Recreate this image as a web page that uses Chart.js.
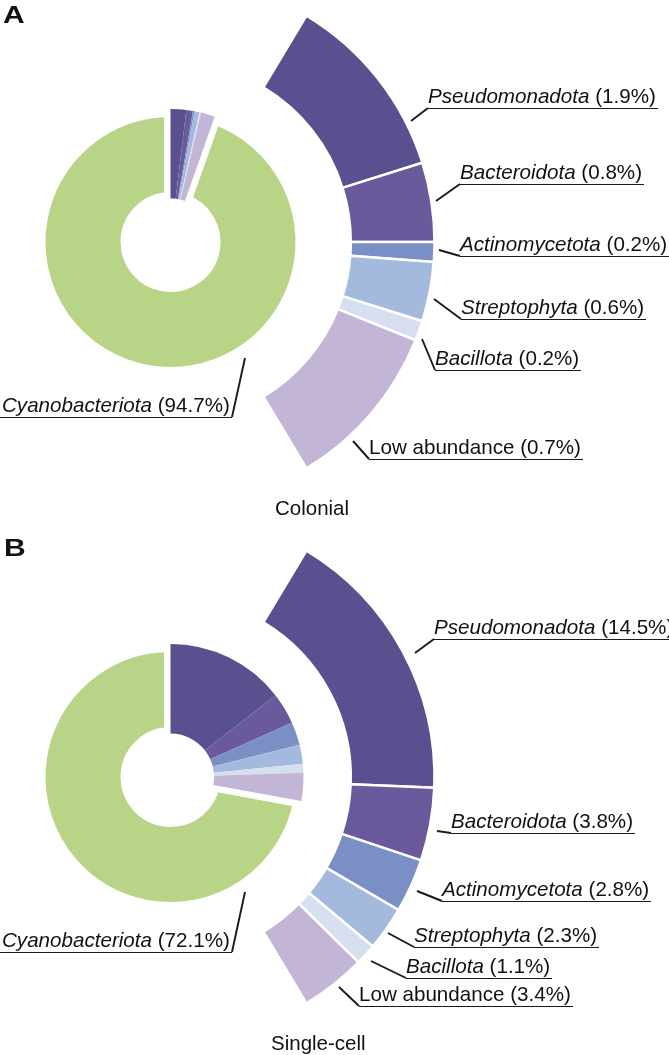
<!DOCTYPE html>
<html>
<head>
<meta charset="utf-8">
<script src="https://cdn.jsdelivr.net/npm/chart.js@4.4.1/dist/chart.umd.min.js"></script>
<style>
  body { margin: 0; background: #fff; width: 669px; height: 1055px; overflow: hidden;
         font-family: "Liberation Sans", Arial, sans-serif; color: #111; }
  .panel { position: absolute; left: 0; width: 669px; height: 530px; }
  .panel canvas { position: absolute; left: 0; top: 0; }
  .lbl { position: absolute; font-size: 20.6px; line-height: 20px; white-space: nowrap;
         padding: 0 2px 2px 0; border-bottom: 1.8px solid #1a1a1a; }
  .title { position: absolute; font-size: 20.5px; line-height: 20px; white-space: nowrap; }
  .letter { position: absolute; font-size: 24px; line-height: 24px; font-weight: bold;
            transform: scaleX(1.25); transform-origin: left top; color: #111; }
</style>
</head>
<body>
<div id="panelA" class="panel" style="top:0"></div>
<div id="panelB" class="panel" style="top:535px"></div>
<div class="letter" style="left:3px;top:3px">A</div>
<div class="letter" style="left:4px;top:536px">B</div>

<script>
const phyla = ["Pseudomonadota", "Bacteroidota", "Actinomycetota", "Streptophyta", "Bacillota", "Low abundance", "Cyanobacteriota"];
const phylumColors = ["#58508f", "#6a5a9c", "#7a8fc3", "#a3b9dd", "#d6dfef", "#c3b5d6", "#b8d487"];

// drawn shares and the printed percentages
const colonialValues = [1.9, 0.8, 0.2, 0.6, 0.2, 1.7, 94.7];
const colonialPercent = ["1.9%", "0.8%", "0.2%", "0.6%", "0.2%", "0.7%", "94.7%"];
const singleCellValues = [14.5, 3.8, 2.8, 2.3, 1.1, 3.4, 72.1];
const singleCellPercent = ["14.5%", "3.8%", "2.8%", "2.3%", "1.1%", "3.4%", "72.1%"];

// label leader lines in panel pixels: [from, to underline]
const colonialLeaders = [
  [[411, 121], [428, 108]],
  [[436, 201], [460, 184]],
  [[439, 250], [460, 256]],
  [[434, 299], [461, 319]],
  [[422, 339], [435, 370]],
  [[353, 441], [369, 459]],
  [[245, 358], [232, 417]],
];
const singleCellLeaders = [
  [[415, 118], [434, 104]],
  [[437, 296], [451, 298]],
  [[417, 356], [442, 366]],
  [[388, 398], [414, 412]],
  [[371, 426], [406, 443]],
  [[339, 452], [359, 471]],
  [[245, 357], [232, 417]],
];

const CYANO = phyla.length - 1;
const CENTER = { x: 170.5, y: 242 };
const CLEAR = "rgba(0,0,0,0)";

const pinCenter = {
  id: "pinCenter",
  beforeDatasetsDraw(chart) {
    chart.getDatasetMeta(0).data.forEach((arc) => {
      arc.x = CENTER.x;
      arc.y = CENTER.y;
    });
  },
};

function addCanvas(panel) {
  const c = document.createElement("canvas");
  c.width = 669;
  c.height = 530;
  panel.appendChild(c);
  return c;
}

function ringOptions(extra) {
  return Object.assign({
    responsive: false,
    animation: false,
    events: [],
    plugins: { legend: { display: false }, tooltip: { enabled: false } },
  }, extra);
}

function drawPanel(panelId, values, percents, leaders, title, titleX) {
  const panel = document.getElementById(panelId);
  const greenColors = phylumColors.map((c, i) => (i === CYANO ? c : CLEAR));
  const groupColors = phylumColors.map((c, i) => (i === CYANO ? CLEAR : c));

  // green ring; its white rim opens the gap beside the small slices
  new Chart(addCanvas(panel), {
    type: "doughnut",
    data: {
      labels: phyla,
      datasets: [{
        data: values,
        backgroundColor: greenColors,
        borderColor: "#fff",
        borderWidth: values.map((v, i) => (i === CYANO ? 13 : 0)),
      }],
    },
    options: ringOptions({ radius: 131.5, cutout: "33.1%" }),
    plugins: [pinCenter],
  });

  // small phyla, drawn a bit thicker than the green ring
  new Chart(addCanvas(panel), {
    type: "doughnut",
    data: {
      labels: phyla,
      datasets: [{ data: values, backgroundColor: groupColors, borderWidth: 0 }],
    },
    options: ringOptions({ radius: 133, cutout: "32.7%" }),
    plugins: [pinCenter],
  });

  const leaderLines = {
    id: "leaderLines",
    afterDatasetsDraw(chart) {
      const ctx = chart.ctx;
      ctx.save();
      ctx.strokeStyle = "#1a1a1a";
      ctx.lineWidth = 1.9;
      leaders.forEach(([a, b]) => {
        ctx.beginPath();
        ctx.moveTo(a[0], a[1]);
        ctx.lineTo(b[0], b[1]);
        ctx.stroke();
      });
      ctx.restore();
    },
  };

  // expanded arc of the non-cyanobacterial part
  new Chart(addCanvas(panel), {
    type: "doughnut",
    data: {
      labels: phyla.slice(0, CYANO),
      datasets: [{
        data: values.slice(0, CYANO),
        backgroundColor: phylumColors.slice(0, CYANO),
        borderColor: "#fff",
        borderWidth: 2.5,
      }],
    },
    options: ringOptions({ radius: 264, cutout: "68.3%", rotation: 31, circumference: 118 }),
    plugins: [pinCenter, leaderLines],
  });

  phyla.forEach((name, i) => {
    const div = document.createElement("div");
    div.className = "lbl";
    const shown = name === "Low abundance" ? name : `<i>${name}</i>`;
    div.innerHTML = `${shown} (${percents[i]})`;
    const end = leaders[i][1];
    if (i === CYANO) {
      div.style.left = "0px";
      div.style.paddingLeft = "2px";
    } else {
      div.style.left = end[0] + "px";
    }
    div.style.top = end[1] - 22 + "px";
    panel.appendChild(div);
  });

  const t = document.createElement("div");
  t.className = "title";
  t.textContent = title;
  t.style.left = titleX + "px";
  t.style.top = "498px";
  panel.appendChild(t);
}

drawPanel("panelA", colonialValues, colonialPercent, colonialLeaders, "Colonial", 275);
drawPanel("panelB", singleCellValues, singleCellPercent, singleCellLeaders, "Single-cell", 271);
</script>
</body>
</html>
